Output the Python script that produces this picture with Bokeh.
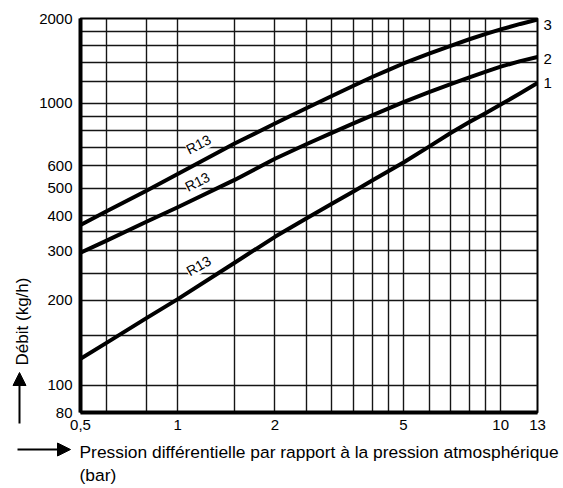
import math
from bokeh.plotting import figure
from bokeh.layouts import column, row
from bokeh.models import FixedTicker, Label, Arrow, NormalHead, LogAxis, Range1d
from bokeh.embed import file_html
from bokeh.resources import INLINE

# ---- data ----
pressure_bar = [0.5, 0.6, 0.8, 1, 1.5, 2, 2.5, 3, 3.5, 4, 4.5, 5, 6, 7, 8, 9, 10, 11.5, 13]
flow_curve_1 = [124, 141, 173, 202, 272, 336, 390, 440, 487, 532, 575, 617, 702, 785, 858, 925, 990, 1085, 1180]
flow_curve_2 = [295, 325, 380, 428, 535, 636, 716, 786, 849, 906, 959, 1010, 1096, 1170, 1236, 1295, 1350, 1412, 1460]
flow_curve_3 = [370, 413, 490, 561, 720, 848, 961, 1062, 1154, 1240, 1315, 1385, 1500, 1600, 1688, 1763, 1829, 1913, 1982]
curves = [flow_curve_1, flow_curve_2, flow_curve_3]
curve_names = ["1", "2", "3"]
curve_name_y = [1180, 1440, 1900]
refrigerant_label = "R13"
label_x = [1.16, 1.15, 1.16]
label_y = [265, 527, 715]

x_tick_values = [0.5, 1, 2, 5, 10, 13]
x_tick_labels = ["0,5", "1", "2", "5", "10", "13"]
y_tick_values = [80, 100, 200, 300, 400, 500, 600, 1000, 2000]
y_tick_labels = ["80", "100", "200", "300", "400", "500", "600", "1000", "2000"]
x_grid_values = [0.6, 0.8, 1, 1.5, 2, 2.5, 3, 3.5, 4, 4.5, 5, 6, 7, 8, 9, 10]
y_grid_values = [100, 150, 200, 250, 300, 350, 400, 500, 600, 700, 800, 900, 1000, 1200, 1400, 1600, 1800]

y_title = "Débit (kg/h)"
x_title_1 = "Pression différentielle par rapport à la pression atmosphérique"
x_title_2 = "(bar)"

FONT = "Liberation Sans"
LEFT_W = 34
TOP_H = 440
TOTAL_W = 563
BOTTOM_H = 46


def blank_fig(w, h, xr, yr):
    f = figure(width=w, height=h, x_range=xr, y_range=yr, output_backend="svg",
               toolbar_location=None, x_axis_location=None, y_axis_location=None,
               min_border=0, min_border_left=0, min_border_right=0,
               min_border_top=0, min_border_bottom=0)
    f.outline_line_color = None
    f.background_fill_color = "white"
    f.border_fill_color = "white"
    f.xgrid.visible = False
    f.ygrid.visible = False
    return f


# ---- main chart ----
p = figure(width=TOTAL_W - LEFT_W, height=TOP_H, x_axis_type="log", y_axis_type="log",
           x_range=(0.5, 13), y_range=(80, 2000), output_backend="svg",
           toolbar_location=None, min_border_left=46, min_border_right=26,
           min_border_top=18, min_border_bottom=28)
p.background_fill_color = "white"
p.border_fill_color = "white"
p.outline_line_color = "black"
p.outline_line_width = 2
p.outline_line_alpha = 1

p.xaxis.ticker = FixedTicker(ticks=x_tick_values, minor_ticks=[])
p.yaxis.ticker = FixedTicker(ticks=y_tick_values, minor_ticks=[])
p.xaxis.major_label_overrides = {(int(v) if float(v).is_integer() else v): s
                                 for v, s in zip(x_tick_values, x_tick_labels)}
p.yaxis.major_label_overrides = {int(v): s for v, s in zip(y_tick_values, y_tick_labels)}
for ax in (p.xaxis[0], p.yaxis[0]):
    ax.major_tick_out = 0
    ax.major_tick_in = 0
    ax.minor_tick_out = 0
    ax.minor_tick_in = 0
    ax.axis_line_width = 4
    ax.axis_line_color = "black"
    ax.major_label_text_font = FONT
    ax.major_label_text_font_size = "15px"
    ax.major_label_text_color = "black"
p.xaxis.major_label_standoff = 7
p.yaxis.major_label_standoff = 8

# curve numbers on the right, next to the curve ends
r_axis = LogAxis(ticker=FixedTicker(ticks=curve_name_y, minor_ticks=[]),
                 major_label_overrides={int(v): n for v, n in zip(curve_name_y, curve_names)},
                 axis_line_color=None, major_tick_out=0, major_tick_in=0,
                 minor_tick_out=0, minor_tick_in=0, major_label_standoff=6,
                 major_label_text_font=FONT, major_label_text_font_size="15px",
                 major_label_text_color="black")
p.add_layout(r_axis, "right")

p.xgrid.ticker = FixedTicker(ticks=x_grid_values)
p.ygrid.ticker = FixedTicker(ticks=y_grid_values)
p.grid.grid_line_color = "#151515"
p.grid.grid_line_width = 1.4
p.grid.grid_line_alpha = 1

for ys in curves:
    p.line(pressure_bar, ys, line_width=4, line_color="black", line_join="round")

for lx, ly, ang in zip(label_x, label_y, [0.52, 0.47, 0.47]):
    p.add_layout(Label(x=lx, y=ly, text=refrigerant_label, angle=ang,
                       text_align="center", text_baseline="middle",
                       text_font=FONT, text_font_size="14px", text_color="black",
                       background_fill_color="white", background_fill_alpha=1))

# ---- left strip: y title + arrow (page pixel coordinates) ----
left = blank_fig(LEFT_W, TOP_H, Range1d(0, LEFT_W), Range1d(TOP_H, 0))
left.add_layout(Label(x=22, y=321, text=y_title, angle=math.pi / 2,
                      text_align="center", text_baseline="middle",
                      text_font=FONT, text_font_size="17px", text_color="black"))
left.add_layout(Arrow(x_start=19, y_start=423, x_end=19, y_end=372,
                      line_width=2, line_color="black",
                      end=NormalHead(size=13, fill_color="black", line_color="black")))

# ---- bottom strip: x title + arrow (page pixel coordinates) ----
bottom = blank_fig(TOTAL_W, BOTTOM_H, Range1d(0, TOTAL_W), Range1d(TOP_H + BOTTOM_H, TOP_H))
bottom.add_layout(Label(x=79, y=451, text=x_title_1, text_align="left", text_baseline="alphabetic",
                        text_font=FONT, text_font_size="17.4px", text_color="black"))
bottom.add_layout(Label(x=79, y=474, text=x_title_2, text_align="left", text_baseline="alphabetic",
                        text_font=FONT, text_font_size="17.4px", text_color="black"))
bottom.add_layout(Arrow(x_start=17, y_start=449, x_end=70, y_end=449,
                        line_width=2, line_color="black",
                        end=NormalHead(size=13, fill_color="black", line_color="black")))

layout = column(row(column(left, spacing=0), p, spacing=0), bottom, spacing=0)
open("out.html", "w").write(file_html(layout, INLINE))
